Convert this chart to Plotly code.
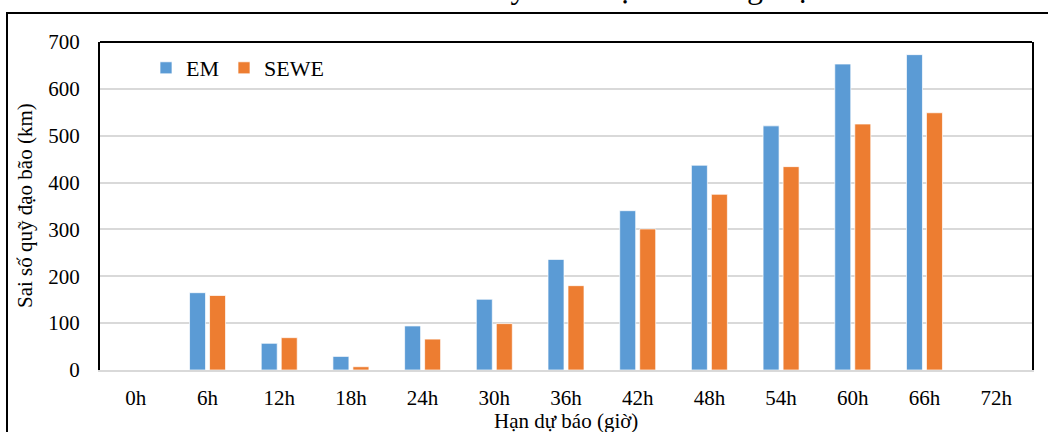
import plotly.graph_objects as go

categories = ["0h", "6h", "12h", "18h", "24h", "30h", "36h", "42h", "48h", "54h", "60h", "66h", "72h"]
em_values = [None, 165, 57, 29, 94, 151, 236, 340, 437, 521, 653, 673, None]
sewe_values = [None, 159, 69, 7, 66, 99, 180, 301, 375, 434, 525, 549, None]
y_ticks = [0, 100, 200, 300, 400, 500, 600, 700]

FONT = "Liberation Serif, Times New Roman, serif"
W, H = 1048, 432
L, R, T, B = 100, 16, 42, 62
PW, PH = W - L - R, H - T - B


def px_x(x):
    return (x - L) / PW


def px_y(y):
    return (H - B - y) / PH


fig = go.Figure()
fig.add_trace(go.Bar(
    x=categories, y=em_values, name="EM",
    marker=dict(color="#5b9bd5", line=dict(color="rgba(255,255,255,0.7)", width=1)),
))
fig.add_trace(go.Bar(
    x=categories, y=sewe_values, name="SEWE",
    marker=dict(color="#ed7d31", line=dict(color="rgba(255,255,255,0.7)", width=1)),
))

fig.update_layout(
    width=W, height=H,
    margin=dict(l=L, r=R, t=T, b=B, autoexpand=False),
    paper_bgcolor="white", plot_bgcolor="white",
    barmode="group", bargap=0.442, bargroupgap=0.2,
    font=dict(family=FONT, size=21, color="black"),
    showlegend=True,
    legend=dict(orientation="h", x=px_x(146), y=px_y(47), xanchor="left", yanchor="top",
                font=dict(family=FONT, size=22, color="black"),
                bgcolor="rgba(0,0,0,0)", itemwidth=30, tracegroupgap=0),
    xaxis=dict(
        type="category", categoryorder="array", categoryarray=categories,
        automargin=False,
        showgrid=False, showline=True, linecolor="#d9d9d9", linewidth=2,
        ticks="", ticklabelstandoff=8,
        tickfont=dict(family=FONT, size=21, color="black"),
    ),
    yaxis=dict(
        range=[0, 700], tickmode="array", tickvals=y_ticks,
        automargin=False,
        showgrid=True, gridcolor="#d9d9d9", gridwidth=1.5,
        zeroline=False,
        showline=True, mirror=True, linecolor="black", linewidth=2,
        ticks="", ticklabelstandoff=14,
        tickfont=dict(family=FONT, size=21, color="black"),
    ),
    shapes=[
        dict(type="line", xref="paper", yref="paper", x0=0, x1=1, y0=1, y1=1,
             line=dict(color="black", width=2)),
        dict(type="rect", xref="paper", yref="paper",
             x0=px_x(7), x1=px_x(1080), y0=px_y(460), y1=px_y(13),
             line=dict(color="black", width=2), fillcolor="rgba(0,0,0,0)", layer="above"),
    ],
    annotations=[
        dict(text="Tính năm 2020 là thời điểm bão di chuyển ổn định và tăng mạnh dần lên.",
             xref="paper", yref="paper", x=px_x(10), y=px_y(7),
             xanchor="left", yanchor="bottom", showarrow=False,
             font=dict(family=FONT, size=32, color="black")),
        dict(text="Hạn dự báo (giờ)", xref="paper", yref="paper",
             x=0.5, y=px_y(421), xanchor="center", yanchor="middle", showarrow=False,
             font=dict(family=FONT, size=21, color="black")),
        dict(text="Sai số quỹ đạo bão (km)", xref="paper", yref="paper",
             x=px_x(25), y=0.5, xanchor="center", yanchor="middle", showarrow=False,
             textangle=-90, font=dict(family=FONT, size=21, color="black")),
    ],
)

fig.write_html(
    "out.html",
    config={"displayModeBar": False},
    post_script="document.body.style.margin='0';document.body.style.padding='0';document.body.style.overflow='hidden';",
)
